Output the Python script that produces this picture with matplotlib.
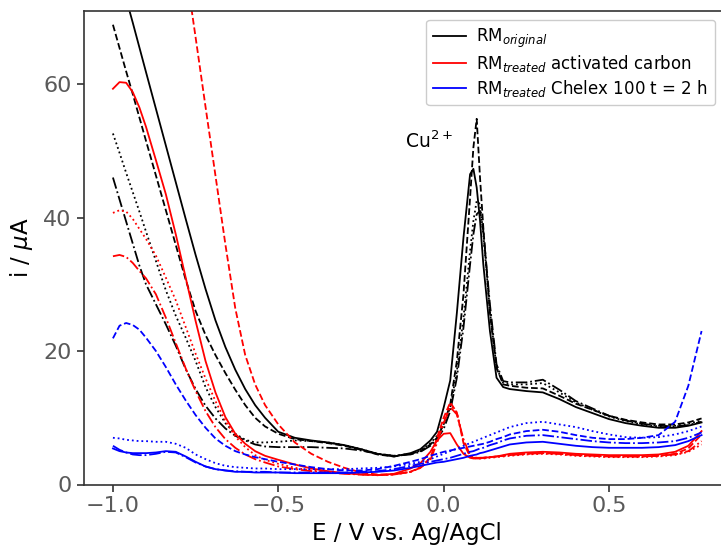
import matplotlib
matplotlib.use("Agg")
import matplotlib.pyplot as plt
from matplotlib.lines import Line2D

# Potential grid (V vs. Ag/AgCl)
E = [-1.00, -0.98, -0.96, -0.94, -0.92, -0.90, -0.87, -0.84, -0.81, -0.78,
     -0.75, -0.72, -0.69, -0.66, -0.63, -0.60, -0.57, -0.54, -0.50, -0.45,
     -0.40, -0.35, -0.30, -0.25, -0.20, -0.15, -0.10, -0.07, -0.04, -0.02,
     0.00, 0.02, 0.04, 0.06, 0.08, 0.09, 0.10, 0.11, 0.12, 0.14,
     0.16, 0.18, 0.20, 0.25, 0.30, 0.35, 0.40, 0.45, 0.50, 0.55,
     0.60, 0.65, 0.70, 0.74, 0.78]

# RM original (black), four replicates
orig_1 = [80.2, 76.5, 72.8, 69.2, 65.5, 61.8, 56.3, 50.8, 45.3, 39.8,
          34.4, 29.3, 24.6, 20.6, 17.2, 14.3, 11.9, 10.0, 7.9, 7.0,
          6.6, 6.3, 5.9, 5.3, 4.6, 4.2, 4.7, 5.3, 6.6, 7.9,
          11.5, 15.6, 25.7, 37.0, 46.5, 47.3, 44.5, 39.6, 33.0, 23.0,
          16.0, 14.6, 14.3, 14.0, 13.8, 12.8, 11.6, 10.7, 9.8, 9.2,
          8.8, 8.5, 8.5, 8.8, 9.3]
orig_2 = [68.9, 65.4, 61.9, 58.5, 55.0, 51.5, 46.3, 41.1, 35.9, 30.7,
          26.0, 22.4, 19.4, 16.7, 14.2, 11.9, 10.0, 8.7, 7.6, 6.8,
          6.5, 6.2, 5.8, 5.2, 4.5, 4.2, 4.6, 5.0, 6.0, 7.0,
          9.0, 12.0, 18.5, 28.5, 43.0, 50.5, 54.8, 46.0, 38.5, 25.7,
          17.5, 15.0, 14.8, 14.5, 14.4, 13.3, 12.1, 11.2, 10.3, 9.7,
          9.3, 9.0, 9.0, 9.3, 9.9]
orig_3 = [52.6, 49.7, 46.7, 43.8, 40.9, 37.9, 33.5, 29.1, 25.3, 22.0,
          18.5, 14.6, 11.6, 9.2, 7.6, 6.7, 6.3, 6.3, 6.4, 6.6,
          6.5, 6.3, 5.9, 5.3, 4.6, 4.3, 4.6, 5.1, 6.2, 7.3,
          9.0, 11.5, 17.0, 25.0, 35.0, 39.5, 42.5, 42.0, 37.5, 26.0,
          17.5, 15.2, 15.0, 15.0, 15.2, 13.8, 12.3, 11.2, 10.2, 9.5,
          9.0, 8.7, 8.8, 9.1, 9.6]
orig_4 = [46.0, 42.7, 39.4, 36.1, 32.8, 30.0, 27.0, 24.0, 20.8, 17.3,
          14.3, 11.8, 9.9, 8.4, 7.3, 6.6, 6.0, 5.7, 5.6, 5.6,
          5.6, 5.5, 5.4, 5.1, 4.6, 4.3, 4.5, 4.9, 5.8, 6.8,
          8.3, 11.0, 16.0, 23.5, 33.0, 37.5, 40.5, 41.0, 38.0, 27.0,
          18.0, 15.5, 15.3, 15.3, 15.7, 14.2, 12.5, 11.4, 10.3, 9.6,
          9.1, 8.8, 8.7, 8.9, 9.4]

# RM treated with activated carbon (red)
carbon_1 = [59.3, 60.3, 60.2, 58.8, 56.5, 53.6, 48.6, 43.5, 37.5, 31.0,
            24.5, 18.5, 13.8, 10.1, 7.6, 6.1, 5.0, 4.3, 3.7, 3.0,
            2.4, 2.0, 1.7, 1.5, 1.4, 1.6, 2.4, 3.2, 4.9, 6.6,
            7.6, 7.7, 6.0, 4.6, 4.0, 3.9, 3.9, 3.9, 4.0, 4.1,
            4.2, 4.4, 4.6, 4.8, 4.9, 4.8, 4.6, 4.5, 4.4, 4.4,
            4.4, 4.5, 4.9, 5.8, 8.0]
carbon_2 = [140.0, 138.0, 135.0, 131.0, 126.0, 120.0, 110.0, 98.0, 87.5, 77.3,
            67.0, 56.6, 46.3, 36.0, 26.4, 19.4, 15.0, 11.9, 9.0, 6.3,
            4.6, 3.4, 2.5, 1.8, 1.5, 1.5, 1.9, 2.6, 4.0, 7.0,
            10.0, 12.3, 10.8, 6.2, 4.2, 4.0, 4.0, 4.0, 4.0, 4.1,
            4.2, 4.3, 4.4, 4.6, 4.7, 4.6, 4.4, 4.3, 4.2, 4.2,
            4.2, 4.3, 4.6, 5.4, 7.5]
carbon_3 = [40.7, 41.1, 40.9, 39.8, 38.3, 36.8, 34.3, 31.0, 27.6, 23.6,
            19.6, 15.9, 12.5, 9.5, 7.2, 5.6, 4.4, 3.7, 3.1, 2.5,
            2.1, 1.9, 1.7, 1.5, 1.4, 1.5, 1.9, 2.5, 3.8, 6.5,
            9.5, 12.0, 10.8, 6.5, 4.3, 4.0, 3.9, 3.9, 3.9, 4.0,
            4.1, 4.2, 4.3, 4.5, 4.6, 4.5, 4.3, 4.2, 4.1, 4.1,
            4.1, 4.2, 4.4, 4.9, 6.0]
carbon_4 = [34.2, 34.4, 34.1, 33.2, 32.0, 30.9, 28.5, 25.0, 21.2, 17.4,
            14.0, 11.0, 8.6, 6.8, 5.5, 4.5, 3.8, 3.3, 2.7, 2.3,
            2.0, 1.8, 1.6, 1.5, 1.4, 1.5, 1.9, 2.5, 3.7, 6.2,
            9.2, 11.6, 10.5, 6.8, 4.4, 4.1, 4.0, 4.0, 4.0, 4.1,
            4.2, 4.3, 4.4, 4.6, 4.7, 4.6, 4.4, 4.3, 4.2, 4.2,
            4.2, 4.3, 4.5, 5.0, 6.5]

# RM treated with Chelex 100, t = 2 h (blue)
chelex_1 = [5.4, 5.0, 4.8, 4.7, 4.7, 4.7, 4.8, 5.0, 4.9, 4.2,
            3.4, 2.7, 2.3, 2.1, 1.9, 1.9, 1.8, 1.8, 1.8, 1.7,
            1.7, 1.7, 1.7, 1.8, 1.9, 2.1, 2.5, 2.8, 3.1, 3.3,
            3.4, 3.6, 3.8, 4.0, 4.3, 4.4, 4.5, 4.7, 4.8, 5.1,
            5.4, 5.7, 6.0, 6.3, 6.4, 6.1, 5.8, 5.6, 5.5, 5.5,
            5.5, 5.6, 5.9, 6.5, 7.4]
chelex_2 = [21.9, 23.8, 24.2, 23.9, 23.2, 22.0, 20.0, 17.6, 15.0, 12.6,
            10.4, 8.5, 6.9, 5.8, 5.0, 4.5, 4.1, 3.8, 3.4, 3.0,
            2.6, 2.3, 2.1, 2.1, 2.3, 2.8, 3.4, 3.8, 4.3, 4.6,
            4.9, 5.1, 5.3, 5.5, 5.7, 5.8, 5.9, 6.0, 6.1, 6.4,
            6.8, 7.1, 7.5, 8.0, 8.2, 7.9, 7.4, 7.0, 6.8, 6.8,
            7.0, 7.4, 9.4, 14.8, 23.0]
chelex_3 = [7.0, 6.9, 6.7, 6.6, 6.5, 6.5, 6.4, 6.4, 6.1, 5.5,
            4.5, 3.8, 3.2, 2.8, 2.6, 2.5, 2.4, 2.4, 2.3, 2.3,
            2.3, 2.3, 2.3, 2.4, 2.5, 2.7, 3.1, 3.4, 3.8, 4.2,
            4.6, 5.0, 5.4, 5.8, 6.2, 6.4, 6.6, 6.8, 7.0, 7.4,
            7.8, 8.2, 8.6, 9.2, 9.4, 9.0, 8.6, 8.0, 7.5, 7.1,
            7.0, 7.1, 7.5, 8.0, 8.7]
chelex_4 = [5.8, 5.2, 4.8, 4.5, 4.4, 4.4, 4.6, 4.9, 4.8, 4.1,
            3.3, 2.7, 2.3, 2.1, 2.0, 1.9, 1.9, 1.9, 1.8, 1.8,
            1.8, 1.8, 1.8, 1.9, 2.0, 2.3, 2.8, 3.1, 3.4, 3.6,
            3.8, 4.0, 4.3, 4.6, 4.9, 5.0, 5.2, 5.4, 5.5, 5.9,
            6.2, 6.6, 6.9, 7.3, 7.4, 7.1, 6.8, 6.5, 6.3, 6.2,
            6.2, 6.3, 6.5, 7.0, 7.8]

groups = [("black", [orig_1, orig_2, orig_3, orig_4]),
          ("red", [carbon_1, carbon_2, carbon_3, carbon_4]),
          ("blue", [chelex_1, chelex_2, chelex_3, chelex_4])]
styles = ["-", "--", ":", "-."]
legend_labels = [r"RM$_{original}$",
                 r"RM$_{treated}$ activated carbon",
                 r"RM$_{treated}$ Chelex 100 t = 2 h"]

fig = plt.figure(figsize=(7.21, 5.48), dpi=100)
ax = fig.add_axes([83.5 / 721, 1 - 484.5 / 548, (731 - 83.5) / 721, (484.5 - 10.7) / 548])

for color, series in groups:
    for ls, values in zip(styles, series):
        ax.plot(E, values, color=color, linestyle=ls, linewidth=1.3)

ax.set_xlim(-1.089, 0.869)
ax.set_ylim(0, 71)
ax.set_xticks([-1.0, -0.5, 0.0, 0.5])
ax.set_yticks([0, 20, 40, 60])
ax.tick_params(labelsize=16, labelcolor="#5a5a5a", color="#333333",
               length=5, width=1.2)
for side in ax.spines.values():
    side.set_color("#333333")
    side.set_linewidth(1.2)

ax.set_xlabel("E / V vs. Ag/AgCl", fontsize=16.5, labelpad=4)
ax.set_ylabel(r"i / $\mu$A", fontsize=16.5, labelpad=6)

ax.text(-0.116, 50.4, r"Cu$^{2+}$", fontsize=13.5, ha="left", va="baseline")

handles = [Line2D([], [], color=c, linestyle="-", linewidth=1.3) for c, _ in groups]
ax.legend(handles, legend_labels, loc="upper right", fontsize=12,
          bbox_to_anchor=(715 / 721, 1 - 20 / 548), bbox_transform=fig.transFigure,
          borderaxespad=0, framealpha=1.0, handletextpad=0.6,
          labelspacing=0.2, borderpad=0.4)

fig.savefig("out.png", dpi=100)
